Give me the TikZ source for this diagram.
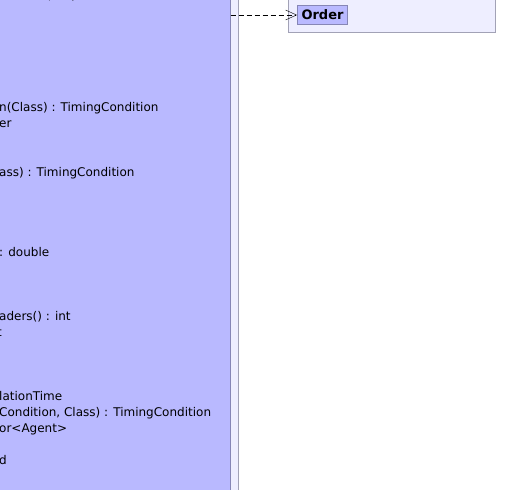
\documentclass[tikz,border=0pt]{standalone}
\usepackage{fontspec}
\setmainfont{DejaVu Sans}
\usetikzlibrary{arrows.meta,positioning}
\definecolor{clsfill}{HTML}{B9B9FF}
\definecolor{clsline}{HTML}{8686B6}
\definecolor{pkgfill}{HTML}{EEEEFF}
\definecolor{pkgline}{HTML}{A2A2B6}
\tikzset{
  pkg/.style={draw=pkgline,fill=pkgfill,line width=1pt,inner sep=0pt},
  cls/.style={draw=clsline,fill=clsfill,line width=1pt,inner sep=0pt},
  member/.style={font=\fontsize{12}{16}\selectfont,inner sep=0pt,anchor=base west},
  dep/.style={-{Straight Barb[length=11pt,width=10pt]},dash pattern=on 5pt off 3pt,black},
}
\begin{document}
\begin{tikzpicture}[x=1pt,y=-1pt]
  \useasboundingbox[fill=white] (0,0) rectangle (526,489);
  % enclosing package and the cut-off class
  \node[pkg,minimum width=560pt,minimum height=580pt,anchor=north east] (outer) at (238.5,-40) {};
  \node[cls,minimum width=540pt,minimum height=570pt,anchor=north east] (agent) at (230.5,-30) {};
  \foreach \row/\xo/\txt in {0/7/{double, int) : void},7/-1/{n(Class) : TimingCondition},8/-1/er,
      11/-1/{ass) : TimingCondition},16/-1/{: double},20/-1/{aders() : int},21/-3/t,
      25/-1/lationTime,26/-1/{Condition, Class) : TimingCondition},27/-1/{or<Agent>},29/-1/d}
    \node[member] (m\row) at (\xo,16*\row) {\txt};
  % package with the used class
  \node[pkg,minimum width=207pt,minimum height=73pt,anchor=south west] (orderpkg) at (288,33) {};
  \node[cls,font=\fontsize{13}{15}\selectfont\bfseries,minimum width=50pt,minimum height=19pt,
        anchor=north west] (order) at (297,5) {Order};
  \draw[dep] (agent.east |- order.west) -- (order.west);
\end{tikzpicture}
\end{document}
